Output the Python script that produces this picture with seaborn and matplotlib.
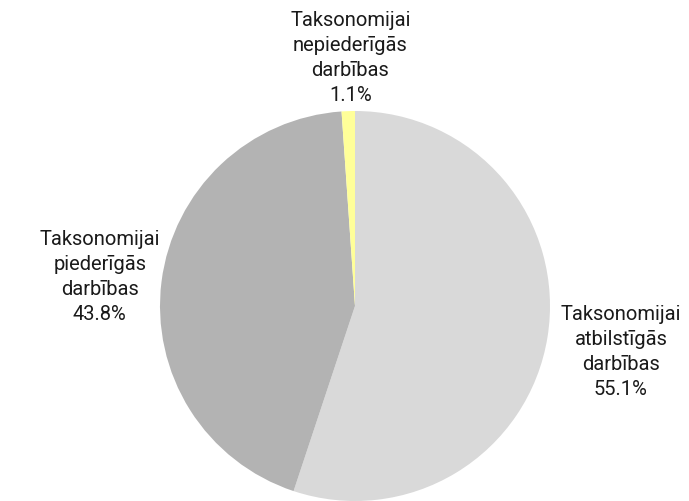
import numpy as np
import matplotlib.pyplot as plt
import seaborn as sns

# Data
categories = ['Taksonomijai\natbilstīgās\ndarbības',
              'Taksonomijai\npiederīgās\ndarbības',
              'Taksonomijai\nnepiederīgās\ndarbības']
shares = [55.1, 43.8, 1.1]
colors = ['#d9d9d9', '#b3b3b3', '#ffff99']

sns.set_style('white')
plt.rcParams['font.family'] = ['Roboto', 'DejaVu Sans']

fig = plt.figure(figsize=(6.89, 5.01), dpi=100)
# axes sized so the pie sits where it does in the reference
ax = fig.add_axes([160 / 689, 0 / 501, 390 / 689, 390 / 501])

wedges, _ = ax.pie(shares, colors=colors, startangle=90, counterclock=False,
                   radius=1, wedgeprops=dict(linewidth=0))
ax.set_xlim(-1, 1)
ax.set_ylim(-1, 1)
ax.set_aspect('equal')
ax.axis('off')

# label placement: distance from centre and small offsets (radius units)
label_dist = [1.28, 1.35, 1.27]
label_shift = [(0.1, -0.03), (0.03, -0.02), (0.02, 0.0)]
for w, cat, val, d, (sx, sy) in zip(wedges, categories, shares, label_dist, label_shift):
    ang = np.deg2rad((w.theta1 + w.theta2) / 2)
    x = d * np.cos(ang) + sx
    y = d * np.sin(ang) + sy
    ax.text(x, y, f'{cat}\n{val:.1f}%', ha='center', va='center',
            fontsize=14.5, color='#1a1a1a', linespacing=1.4, clip_on=False)

fig.savefig('out.png', dpi=100)
